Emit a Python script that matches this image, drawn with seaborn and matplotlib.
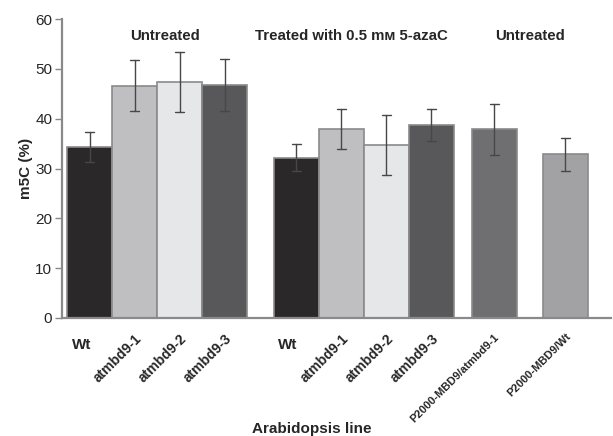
import numpy as np
import pandas as pd
import seaborn as sns
import matplotlib.pyplot as plt
import matplotlib.transforms as mtransforms

# --- data ---
lines = ['Wt', 'atmbd9-1', 'atmbd9-2', 'atmbd9-3',
         'Wt ', 'atmbd9-1 ', 'atmbd9-2 ', 'atmbd9-3 ',
         'P2000-MBD9/atmbd9-1', 'P2000-MBD9/Wt']
m5c = [34.4, 46.6, 47.4, 46.8,
       32.2, 37.9, 34.7, 38.8,
       37.9, 32.9]
err = [3.0, 5.1, 6.0, 5.2,
       2.7, 4.0, 6.1, 3.2,
       5.1, 3.3]
groups = ['Untreated', 'Treated with 0.5 m\u1d0d 5-azaC', 'Untreated']
group_sizes = [4, 4, 2]

# --- styling ---
bar_colors = ['#2a2829', '#bfbfc1', '#e6e7e9', '#58585a',
              '#2a2829', '#bfbfc1', '#e6e7e9', '#58585a',
              '#6f6f72', '#a2a2a5']
# spacing between neighbouring bars (bar slots)
steps = [1, 1, 1, 1.58, 1, 1, 1, 1.4, 1.58]
pos = np.concatenate([[0], np.cumsum(steps)])
header_shift = [0.18, -0.27, 0.0]

sns.set_style('white')
plt.rcParams['font.family'] = ['Liberation Sans', 'DejaVu Sans']

# two rows per bar: lower and upper end of the error bar, mean = bar height
df = pd.DataFrame({
    'pos': np.repeat(pos, 2),
    'line': np.repeat(lines, 2),
    'm5C': np.ravel([[v - e, v + e] for v, e in zip(m5c, err)]),
})

fig = plt.figure(figsize=(6.13, 4.36), dpi=100)
ax = fig.add_axes([0.101, 0.271, 0.896, 0.685])

sns.barplot(data=df, x='pos', y='m5C', hue='line', native_scale=True,
            palette=dict(zip(lines, bar_colors)), width=1.0, legend=False,
            errorbar=lambda x: (x.min(), x.max()), capsize=0.2,
            err_kws={'color': '#474747', 'linewidth': 1.0},
            edgecolor='#8a8a8a', linewidth=1.2, saturation=1, ax=ax)

ax.set_xlim(-0.62, 11.58)
ax.set_ylim(0, 60)
ax.set_yticks(range(0, 61, 10))
ax.tick_params(axis='y', labelsize=11, length=5, width=1, color='#888888',
               direction='out', left=True, pad=2)
ax.tick_params(axis='x', length=0, pad=10)

ax.set_xticks(pos)
ax.set_xticklabels([l.strip() for l in lines])
wt_offset = mtransforms.ScaledTranslation(-8 / 100, -6 / 100, fig.dpi_scale_trans)
for i, lab in enumerate(ax.get_xticklabels()):
    lab.set_fontweight('bold')
    if i in (0, 4):
        lab.set_rotation(0)
        lab.set_ha('center')
        lab.set_fontsize(11)
        lab.set_transform(lab.get_transform() + wt_offset)
    else:
        lab.set_rotation(45)
        lab.set_ha('right')
        lab.set_va('top')
        lab.set_rotation_mode('anchor')
        lab.set_fontsize(8 if i >= 8 else 10)

ax.set_ylabel('m5C (%)', fontsize=11, fontweight='bold')
ax.yaxis.set_label_coords(-0.052, 0.5)
ax.set_xlabel('Arabidopsis line', fontsize=11, fontweight='bold')
ax.xaxis.set_label_coords(0.455, -0.35)

sns.despine(ax=ax)
for side in ('left', 'bottom'):
    ax.spines[side].set_color('#8a8a8a')
    ax.spines[side].set_linewidth(1.6)

# group headers above each block of bars
start = 0
for name, n, shift in zip(groups, group_sizes, header_shift):
    centre = pos[start:start + n].mean() + shift
    ax.text(centre, 56.6, name, ha='center', va='center',
            fontsize=10.8, fontweight='bold')
    start += n

fig.savefig('out.png', dpi=100)
